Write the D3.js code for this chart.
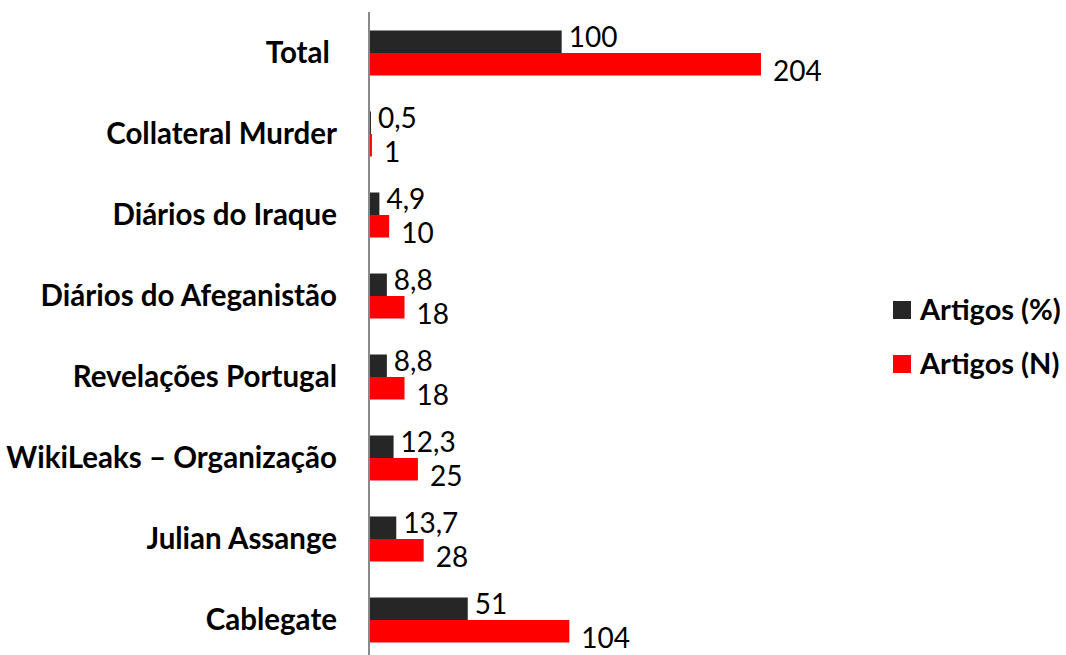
<!DOCTYPE html>
<html>
<head>
<meta charset="utf-8">
<script src="https://cdn.jsdelivr.net/npm/d3@7"></script>
<style>
  body { margin: 0; background: #fff; }
  text { font-family: Lato, "Open Sans", sans-serif; }
</style>
</head>
<body>
<script>
// data
var categories = ["Total ", "Collateral Murder", "Diários do Iraque", "Diários do Afeganistão",
                  "Revelações Portugal", "WikiLeaks – Organização", "Julian Assange", "Cablegate"];
var seriesNames = ["Artigos (%)", "Artigos (N)"];
var pctValues = [100, 0.5, 4.9, 8.8, 8.8, 12.3, 13.7, 51];
var nValues = [204, 1, 10, 18, 18, 25, 28, 104];
var pctLabels = ["100", "0,5", "4,9", "8,8", "8,8", "12,3", "13,7", "51"];
var nLabels = ["204", "1", "10", "18", "18", "25", "28", "104"];
var colors = ["#262626", "#ff0000"];

var width = 1066, height = 655;

var svg = d3.select("body").append("svg")
    .attr("width", width)
    .attr("height", height);

var rows = categories.map(function(c, i) {
  return { cat: c, vals: [
    { s: 0, v: pctValues[i], label: pctLabels[i] },
    { s: 1, v: nValues[i], label: nLabels[i] }
  ]};
});

var x = d3.scaleLinear().domain([0, 204]).range([370, 761]);
var y = d3.scaleBand().domain(categories).range([12.5, 660.5]).padding(0);
var ySub = d3.scaleBand().domain([0, 1]).range([18, 63]);

// category labels
svg.selectAll("text.cat")
  .data(categories)
  .enter().append("text")
    .attr("class", "cat")
    .attr("x", 337)
    .attr("y", function(d) { return y(d) + y.bandwidth() / 2; })
    .attr("dy", "0.35em")
    .attr("text-anchor", "end")
    .style("white-space", "pre")
    .attr("font-size", "29.5px")
    .attr("font-weight", "bold")
    .attr("fill", "#000")
    .text(function(d) { return d; });

var groups = svg.selectAll("g.row")
  .data(rows)
  .enter().append("g")
    .attr("class", "row")
    .attr("transform", function(d) { return "translate(0," + y(d.cat) + ")"; });

groups.selectAll("rect")
  .data(function(d) { return d.vals; })
  .enter().append("rect")
    .attr("x", x(0))
    .attr("y", function(d) { return ySub(d.s); })
    .attr("width", function(d) { return x(d.v) - x(0); })
    .attr("height", ySub.bandwidth())
    .attr("fill", function(d) { return colors[d.s]; });

// value labels, dark ones a bit higher and red ones a bit lower like the original
groups.selectAll("text.val")
  .data(function(d) { return d.vals; })
  .enter().append("text")
    .attr("class", "val")
    .attr("x", function(d) { return x(d.v) + (d.s === 0 ? 7 : 12); })
    .attr("y", function(d) { return ySub(d.s) + ySub.bandwidth() / 2 + (d.s === 0 ? -5 : 7); })
    .attr("dy", "0.35em")
    .attr("font-size", "28px")
    .attr("fill", "#000")
    .text(function(d) { return d.label; });

// vertical axis line
svg.append("line")
    .attr("x1", 369).attr("x2", 369)
    .attr("y1", 12).attr("y2", 655)
    .attr("stroke", "#898989")
    .attr("stroke-width", 2);

// legend
var legend = svg.selectAll("g.legend")
  .data(seriesNames)
  .enter().append("g")
    .attr("class", "legend")
    .attr("transform", function(d, i) { return "translate(893," + (310 + i * 54) + ")"; });

legend.append("rect")
    .attr("x", 0).attr("y", -9)
    .attr("width", 18).attr("height", 18)
    .attr("fill", function(d, i) { return colors[i]; });

legend.append("text")
    .attr("x", 27)
    .attr("dy", "0.35em")
    .attr("font-size", "29px")
    .attr("font-weight", "bold")
    .attr("fill", "#000")
    .text(function(d) { return d; });
</script>
</body>
</html>
